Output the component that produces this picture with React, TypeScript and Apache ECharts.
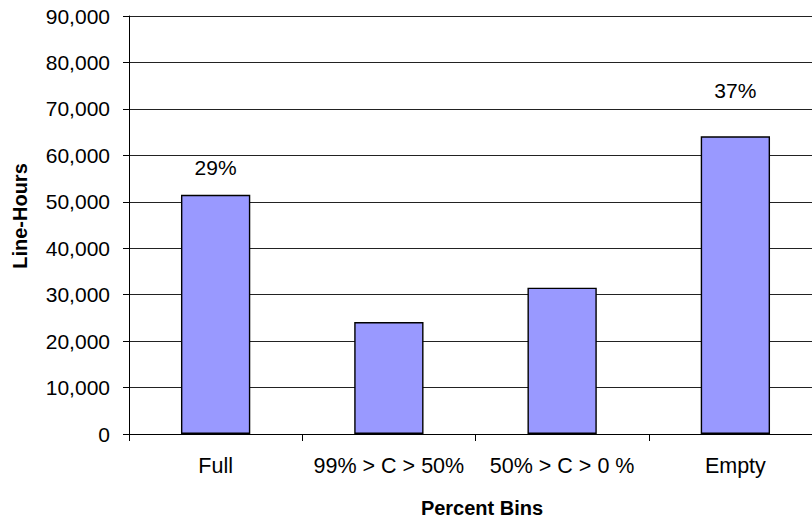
import React, { useEffect, useRef } from "react";
import * as echarts from "echarts";

const categories = ["Full", "99% > C > 50%", "50% > C > 0 %", "Empty"];
const lineHours = [51500, 24100, 31500, 64100];
const shareLabels = ["29%", "", "", "37%"];
const labelGaps = [17, 0, 0, 35];

const FONT = '"Liberation Sans", Arial, sans-serif';

export default function App() {
  const ref = useRef<HTMLDivElement>(null);

  useEffect(() => {
    if (!ref.current) return;
    const chart = echarts.init(ref.current, null, { renderer: "svg" });

    const data = lineHours.map((v, i) => ({
      value: v,
      label: {
        show: shareLabels[i] !== "",
        position: "top",
        distance: labelGaps[i],
        formatter: shareLabels[i],
        color: "#000",
        fontSize: 21,
        fontFamily: FONT,
      },
    }));

    chart.setOption({
      animation: false,
      backgroundColor: "#fff",
      textStyle: { fontFamily: FONT },
      // plot area runs past the right edge of the canvas
      grid: {
        left: 129,
        top: 16,
        width: 693,
        height: 418,
        containLabel: false,
        outerBoundsMode: "none",
      },
      xAxis: {
        type: "category",
        data: categories,
        boundaryGap: true,
        axisLine: { show: true, lineStyle: { color: "#000", width: 1 } },
        axisTick: { show: true, length: 7, lineStyle: { color: "#000" } },
        axisLabel: {
          color: "#000",
          fontSize: 21.5,
          fontFamily: FONT,
          margin: 21,
          interval: 0,
        },
        splitLine: { show: false },
      },
      yAxis: {
        type: "value",
        min: 0,
        max: 90000,
        interval: 10000,
        axisLine: { show: true, lineStyle: { color: "#000", width: 1 } },
        axisTick: { show: true, length: 6, lineStyle: { color: "#000" } },
        axisLabel: {
          color: "#000",
          fontSize: 21,
          fontFamily: FONT,
          margin: 19,
          formatter: (v: number) => v.toLocaleString("en-US"),
        },
        splitLine: { show: true, lineStyle: { color: "#222", width: 1 } },
      },
      series: [
        {
          type: "bar",
          data,
          barWidth: "40%",
          itemStyle: { color: "#9999FF", borderColor: "#000", borderWidth: 1.4 },
        },
      ],
      graphic: [
        {
          type: "text",
          x: 20,
          y: 216,
          rotation: Math.PI / 2,
          style: {
            text: "Line-Hours",
            fontSize: 20,
            fontWeight: "bold",
            fontFamily: FONT,
            fill: "#000",
            align: "center",
            verticalAlign: "middle",
          },
        },
        {
          type: "text",
          x: 482,
          y: 508,
          style: {
            text: "Percent Bins",
            fontSize: 20,
            fontWeight: "bold",
            fontFamily: FONT,
            fill: "#000",
            align: "center",
            verticalAlign: "middle",
          },
        },
      ],
    });

    return () => chart.dispose();
  }, []);

  return <div ref={ref} style={{ width: 812, height: 518, position: "absolute", left: 0, top: 0 }} />;
}
